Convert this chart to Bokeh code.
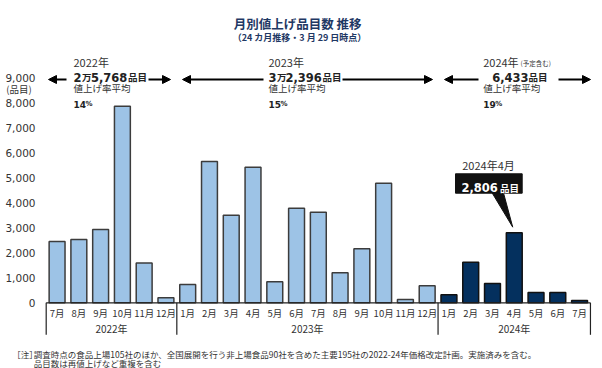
from bokeh.plotting import figure
from bokeh.models import Range1d, ColumnDataSource, Arrow, NormalHead
from bokeh.core.properties import value
from bokeh.embed import file_html
from bokeh.resources import INLINE

# ---------------- data ----------------
years = ["2022年", "2023年", "2024年"]
months_2022 = ["7月", "8月", "9月", "10月", "11月", "12月"]
months_2023 = ["1月", "2月", "3月", "4月", "5月", "6月", "7月", "8月", "9月", "10月", "11月", "12月"]
months_2024 = ["1月", "2月", "3月", "4月", "5月", "6月", "7月"]
items_2022 = [2450, 2530, 2930, 7864, 1590, 200]
items_2023 = [730, 5650, 3500, 5420, 840, 3780, 3620, 1200, 2160, 4780, 130, 680]
items_2024 = [320, 1625, 770, 2806, 410, 410, 90]
year_totals = [25768, 32396, 6433]
avg_rates = [14, 15, 19]
y_ticks = [0, 1000, 2000, 3000, 4000, 5000, 6000, 7000, 8000, 9000]
highlight_label = "2024年4月"
highlight_index = 21          # 2024年4月
highlight_value = 2806

title_text = "月別値上げ品目数  推移"
subtitle_text = "（24 カ月推移・3 月 29 日時点）"
rate_label = "値上げ率平均"
unit_label = "(品目)"
note_head = "［注］"
note_lines = ["調査時点の食品上場105社のほか、全国展開を行う非上場食品90社を含めた主要195社の2022-24年価格改定計画。実施済みを含む。",
              "品目数は再値上げなど重複を含む"]

# ---------------- styles ----------------
JP = "Noto Sans CJK JP"
NUM = "DejaVu Sans"
TXT = "#333333"
NAVY = "#1F3864"
LIGHT = "#9DC3E6"
DARK = "#04305E"

W, H = 602, 368
# pixel helpers (reference pixel -> data units)
X0, DX, Y0, DY = 45.7, 21.77, 302.3, 0.025
def ux(px):
    return (px - X0) / DX
def vy(py):
    return (Y0 - py) / DY

p = figure(width=W, height=H, output_backend="svg", toolbar_location=None,
           x_range=Range1d(ux(0), ux(W)), y_range=Range1d(vy(H), vy(0)),
           x_axis_type=None, y_axis_type=None, min_border=0,
           outline_line_color=None, background_fill_color="white")
p.xgrid.visible = False
p.ygrid.visible = False

def txt(px, py, s, size, bold=False, color=TXT, align="left", baseline="middle", font=JP):
    p.text(x=[ux(px)], y=[vy(py)], text=[s], text_font=value(font),
           text_font_size=f"{size}px", text_font_style="bold" if bold else "normal",
           text_color=color, text_align=align, text_baseline=baseline)

# ---------------- bars ----------------
months = months_2022 + months_2023 + months_2024
vals = items_2022 + items_2023 + items_2024
counts = [len(months_2022), len(months_2023), len(months_2024)]
fills, lines = [], []
for yi, c in enumerate(counts):
    fills += [LIGHT if yi < 2 else DARK] * c
    lines += ["#3c3c3c" if yi < 2 else "#111111"] * c
xs = [i + 0.5 for i in range(len(vals))]
src = ColumnDataSource(dict(x=xs, top=vals, fill=fills, line=lines, m=months))
p.vbar(x="x", top="top", width=0.73, bottom=0, fill_color="fill", line_color="line",
       line_width=1.5, source=src)

# ---------------- y tick labels ----------------
p.text(x=[ux(35)] * len(y_ticks), y=y_ticks, text=[f"{t:,}" for t in y_ticks],
       text_font=value(NUM), text_font_size="10.5px", text_color=TXT,
       text_align="right", text_baseline="middle")
txt(18.5, 88, unit_label, 9.5, align="center")

# ---------------- x axis (months / years frame) ----------------
p.text(x=xs, y=[vy(312.3)] * len(xs), text=months, text_font=value(JP),
       text_font_size="9.5px", text_color=TXT, text_align="center", text_baseline="middle")
bounds = [0]
for c in counts:
    bounds.append(bounds[-1] + c)
centers = [(bounds[i] + bounds[i + 1]) / 2 for i in range(len(counts))]
p.text(x=centers, y=[vy(328.3)] * 3, text=years, text_font=value(JP),
       text_font_size="10px", text_color=TXT, text_align="center", text_baseline="middle")
p.segment(x0=bounds, y0=[0] * 4, x1=bounds, y1=[vy(334.3)] * 4, line_color="#222222", line_width=1.2)
p.segment(x0=[bounds[0]], y0=[0], x1=[bounds[-1]], y1=[0], line_color="#222222", line_width=1.2)

# ---------------- title ----------------
txt(298.5, 22.7, title_text, 12.5, bold=True, color=NAVY, align="center")
txt(299, 36.5, subtitle_text, 9, bold=True, color=NAVY, align="center")

# ---------------- year summaries ----------------
def total_pieces(n):
    if n >= 10000:
        return [str(n // 10000), "万", f"{n % 10000:,}", "品目"]
    return ["", "", f"{n:,}", "品目"]

blocks = [
    dict(left=73, xs=[73, 81.5, 90.5, 127.5], pct=85),
    dict(left=268, xs=[268, 276.5, 285, 322], pct=280),
    dict(left=482.7, xs=[0, 0, 491.7, 528], pct=494.7),
]
for yi, b in enumerate(blocks):
    txt(b["left"], 61, years[yi], 11)
    pieces = total_pieces(year_totals[yi])
    for k, s in enumerate(pieces):
        if not s:
            continue
        big = k in (0, 2)
        txt(b["xs"][k], 76.5, s, 11.5 if big else 9.5, bold=True, color="#222222",
            baseline="alphabetic", font=NUM if big else JP)
    txt(b["left"], 87.7, rate_label, 9.5)
    txt(b["left"], 103.5, str(avg_rates[yi]), 9, bold=True, color="#222222",
        baseline="alphabetic", font=NUM)
    txt(b["pct"], 103.5, "%", 7, bold=True, color="#222222", baseline="alphabetic", font=NUM)
txt(520, 62, "(予定含む)", 6.5)

# arrows
arrow_y = vy(79)
for sx, ex in [(66, 48), (148, 170), (263, 182), (342, 432), (478, 444), (558, 590)]:
    p.add_layout(Arrow(end=NormalHead(size=8, fill_color="black", line_color="black"),
                       x_start=ux(sx), y_start=arrow_y, x_end=ux(ex), y_end=arrow_y,
                       line_color="black", line_width=2))

# ---------------- callout ----------------
txt(488, 164, highlight_label, 11, align="center")
p.quad(left=[ux(455)], right=[ux(521.7)], top=[vy(173.3)], bottom=[vy(192.7)],
       fill_color="#111111", line_color="#111111")
tip_x = highlight_index + 0.5 - 0.07
tip_y = highlight_value + 220
p.patch(x=[ux(491.7), ux(503), tip_x], y=[vy(192.5), vy(192.5), tip_y],
        fill_color="#111111", line_color="#111111")
txt(461, 187.3, f"{highlight_value:,}", 11.5, bold=True, color="white",
    baseline="alphabetic", font=NUM)
txt(499.5, 187.3, "品目", 9.5, bold=True, color="white", baseline="alphabetic")

# ---------------- notes ----------------
txt(11.7, 353.7, note_head, 8.5)
txt(33.3, 353.7, note_lines[0], 8.5)
txt(33.3, 362.7, note_lines[1], 8.5)

open("out.html", "w").write(file_html(p, INLINE))
